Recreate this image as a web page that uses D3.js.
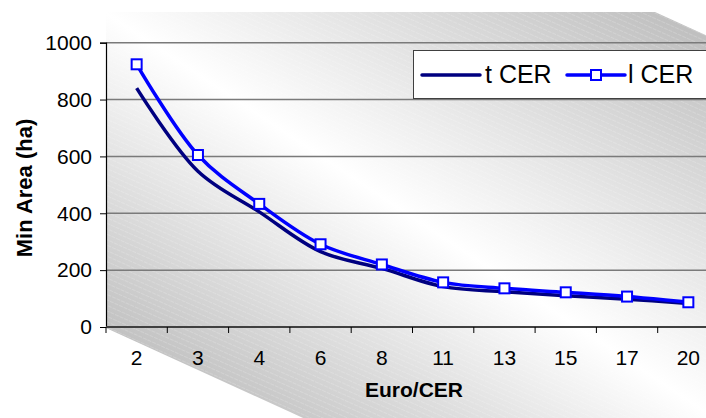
<!DOCTYPE html>
<html>
<head>
<meta charset="utf-8">
<script src="https://cdn.jsdelivr.net/npm/d3@7"></script>
<style>
  body { margin: 0; background: #fff; }
  svg { display: block; font-family: 'Liberation Sans', Arial, sans-serif; }
</style>
</head>
<body>
<svg id="chart" width="706" height="418"></svg>
<script>
var categories = ['2', '3', '4', '6', '8', '11', '13', '15', '17', '20'];
var tCER = [840, 548, 405, 265, 206, 142, 124, 110, 98, 83];
var lCER = [924, 605, 433, 291, 220, 157, 136, 122, 107, 87];
var yTicks = [0, 200, 400, 600, 800, 1000];
var seriesNames = ['t CER', 'l CER'];

var svg = d3.select('#chart');
var defs = svg.append('defs');

var xScale = d3.scaleBand().domain(categories).range([106, 719]);
var yScale = d3.scaleLinear().domain([0, 1000]).range([327, 42.7]);

// background gradient (gray - white - gray, diagonal)
var grad = defs.append('linearGradient')
  .attr('id', 'bg')
  .attr('gradientUnits', 'userSpaceOnUse')
  .attr('x1', 245).attr('y1', 433)
  .attr('x2', 566).attr('y2', -50);
grad.append('stop').attr('offset', 0).attr('stop-color', '#bfbfbf');
grad.append('stop').attr('offset', 0.47).attr('stop-color', '#ffffff');
grad.append('stop').attr('offset', 1).attr('stop-color', '#c0c0c0');

// faint diagonal hatch
var pat = defs.append('pattern')
  .attr('id', 'hatch')
  .attr('patternUnits', 'userSpaceOnUse')
  .attr('width', 5).attr('height', 5)
  .attr('patternTransform', 'rotate(24)');
pat.append('line')
  .attr('x1', 0).attr('y1', 0).attr('x2', 5).attr('y2', 0)
  .attr('stroke', '#fff').attr('stroke-width', 1)
  .attr('stroke-dasharray', '2,1').attr('opacity', 0.35);

var panel = [[106, 12], [655, 12], [1755, 512], [1755, 1000], [1578, 1000], [106, 328]];
svg.append('polygon').attr('points', panel.join(' ')).attr('fill', 'url(#bg)');
svg.append('polygon').attr('points', panel.join(' ')).attr('fill', 'url(#hatch)');

// gridlines
svg.append('g')
  .selectAll('line')
  .data(yTicks.filter(d => d > 0))
  .enter()
  .append('line')
  .attr('x1', 106).attr('x2', 706)
  .attr('y1', d => yScale(d)).attr('y2', d => yScale(d))
  .attr('stroke', '#7a7a7a')
  .attr('stroke-width', 1.5);

// y axis
var yAxis = d3.axisLeft(yScale).tickValues(yTicks).tickFormat(d3.format('d')).tickSize(6).tickPadding(8);
var gy = svg.append('g').attr('transform', 'translate(106,0)').call(yAxis);
gy.select('.domain').attr('stroke', '#000').attr('stroke-width', 1.2);
gy.selectAll('.tick line').attr('stroke', '#000');
gy.selectAll('.tick text').attr('font-size', 21).attr('fill', '#000')
  .style('font-family', "'Liberation Sans', Arial, sans-serif");

// x axis
var xAxis = d3.axisBottom(xScale).tickSize(0).tickPadding(23);
var gx = svg.append('g').attr('transform', 'translate(0,327)').call(xAxis);
gx.select('.domain').remove();
gx.selectAll('.tick text').attr('font-size', 21).attr('fill', '#000')
  .style('font-family', "'Liberation Sans', Arial, sans-serif");

svg.append('line')
  .attr('x1', 106).attr('x2', 706)
  .attr('y1', 327).attr('y2', 327)
  .attr('stroke', '#404040').attr('stroke-width', 2);

var bounds = categories.map(c => xScale(c)).concat([xScale.range()[1]]);
svg.append('g')
  .selectAll('line')
  .data(bounds)
  .enter()
  .append('line')
  .attr('x1', d => d).attr('x2', d => d)
  .attr('y1', 327).attr('y2', 333)
  .attr('stroke', '#000').attr('stroke-width', 1);

// lines
var line = d3.line()
  .x((d, i) => xScale(categories[i]) + xScale.bandwidth() / 2)
  .y(d => yScale(d))
  .curve(d3.curveCatmullRom.alpha(0.5));

svg.append('path')
  .datum(tCER)
  .attr('d', line)
  .attr('fill', 'none')
  .attr('stroke', '#000080')
  .attr('stroke-width', 3.5)
  .attr('stroke-linejoin', 'round');

svg.append('path')
  .datum(lCER)
  .attr('d', line)
  .attr('fill', 'none')
  .attr('stroke', '#0000ff')
  .attr('stroke-width', 3.5)
  .attr('stroke-linejoin', 'round');

svg.append('g')
  .selectAll('rect')
  .data(lCER)
  .enter()
  .append('rect')
  .attr('x', (d, i) => xScale(categories[i]) + xScale.bandwidth() / 2 - 5)
  .attr('y', d => yScale(d) - 5)
  .attr('width', 10).attr('height', 10)
  .attr('fill', '#fff')
  .attr('stroke', '#0000ff')
  .attr('stroke-width', 2);

// legend
svg.append('rect')
  .attr('x', 413.5).attr('y', 50.5)
  .attr('width', 300).attr('height', 48)
  .attr('fill', '#fff')
  .attr('stroke', '#404040').attr('stroke-width', 1);

svg.append('line')
  .attr('x1', 422).attr('x2', 480).attr('y1', 75).attr('y2', 75)
  .attr('stroke', '#000080').attr('stroke-width', 3.5).attr('stroke-linecap', 'round');
svg.append('text').attr('x', 485).attr('y', 83).attr('font-size', 25).text(seriesNames[0]);

svg.append('line')
  .attr('x1', 567).attr('x2', 625).attr('y1', 75).attr('y2', 75)
  .attr('stroke', '#0000ff').attr('stroke-width', 3.5).attr('stroke-linecap', 'round');
svg.append('rect')
  .attr('x', 591).attr('y', 70).attr('width', 10).attr('height', 10)
  .attr('fill', '#fff').attr('stroke', '#0000ff').attr('stroke-width', 2);
svg.append('text').attr('x', 628).attr('y', 83).attr('font-size', 25).text(seriesNames[1]);

// axis titles
svg.append('text')
  .attr('x', 414).attr('y', 397)
  .attr('text-anchor', 'middle')
  .attr('font-size', 21).attr('font-weight', 'bold')
  .text('Euro/CER');

svg.append('text')
  .attr('transform', 'translate(32,188) rotate(-90)')
  .attr('text-anchor', 'middle')
  .attr('font-size', 22).attr('font-weight', 'bold')
  .text('Min Area (ha)');
</script>
</body>
</html>
